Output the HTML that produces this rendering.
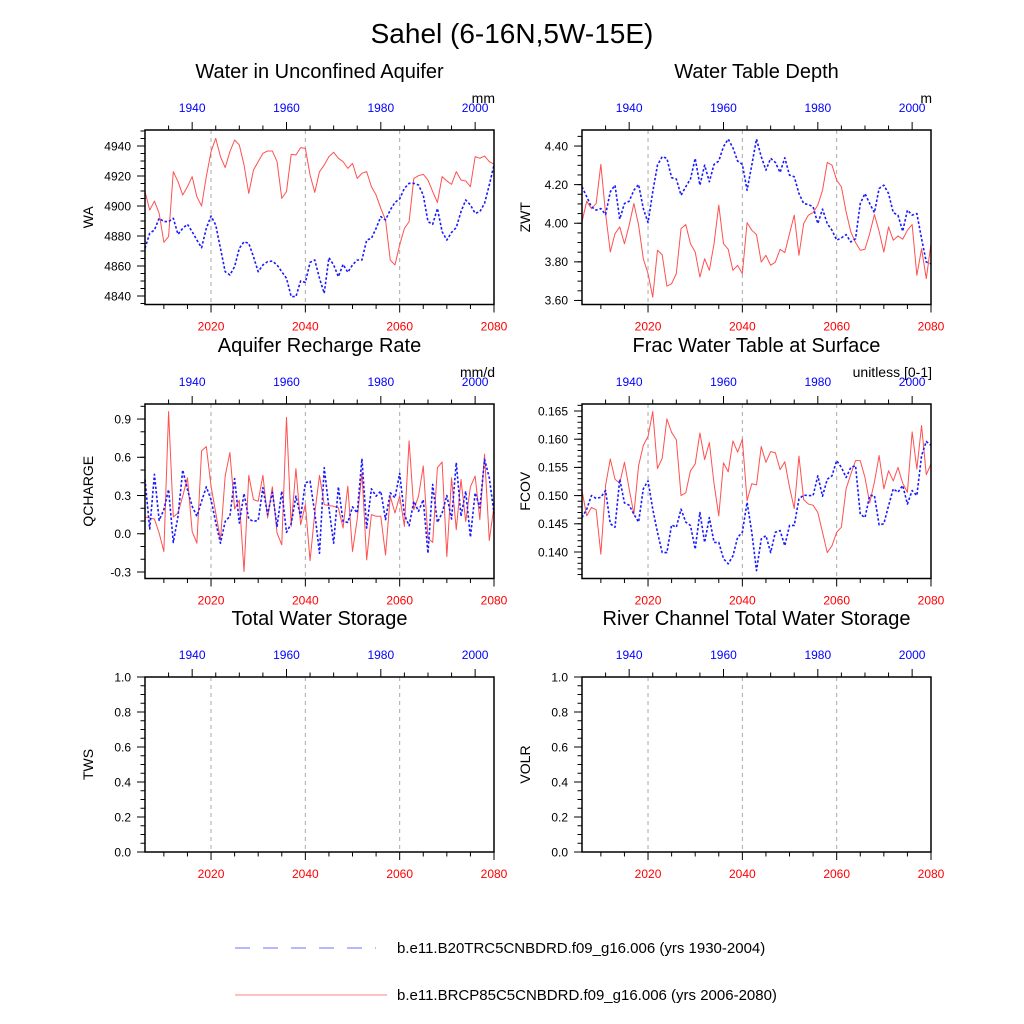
<!DOCTYPE html>
<html><head><meta charset="utf-8"><style>
html,body{margin:0;padding:0;background:#fff;}
svg{display:block;font-family:"Liberation Sans",Arial,sans-serif;}
</style></head><body>
<svg id="chart" width="1024" height="1024" viewBox="0 0 1024 1024" xmlns="http://www.w3.org/2000/svg">
<text x="512" y="43" font-size="28" text-anchor="middle">Sahel (6-16N,5W-15E)</text>
<g>
<line x1="235" y1="948" x2="376" y2="948" stroke="#7070ff" stroke-width="1" stroke-dasharray="15,13"/>
<text x="397" y="953" font-size="15">b.e11.B20TRC5CNBDRD.f09_g16.006 (yrs 1930-2004)</text>
<line x1="235" y1="995" x2="387" y2="995" stroke="#ff8080" stroke-width="1"/>
<text x="397" y="1000" font-size="15">b.e11.BRCP85C5CNBDRD.f09_g16.006 (yrs 2006-2080)</text>
</g>
</svg>
<script>
const years = [2006, 2080];
const topYears = [1930, 2004];
const bottomTicks = ["2020","2040","2060","2080"];
const topTicks = ["1940","1960","1980","2000"];

const waRed = [4909.6,4897.3,4903.3,4895.1,4875.8,4879.6,4922.9,4916.2,4907.3,4912.9,4919.6,4906.2,4900,4919.6,4936.2,4945.1,4932.9,4925.6,4936.2,4944,4940.7,4927.3,4908.4,4924,4929.6,4935.1,4936.7,4936.7,4929.6,4905.1,4909.6,4934.4,4934,4938.9,4938.4,4920.7,4909.1,4922.9,4927.3,4932.9,4935.8,4931.8,4929.6,4925.1,4928.4,4918.4,4921.8,4922.9,4912.9,4907.3,4898.4,4890.7,4864,4860.7,4874,4885.1,4889.6,4918.4,4920.2,4921.1,4917.3,4909.6,4902.4,4919.6,4916.7,4914.4,4922.9,4917.3,4916.7,4912.9,4932.9,4931.8,4933.3,4929.6,4927.8];
const waBlue = [4871.8,4881.8,4884,4891.8,4889.6,4889.6,4891.8,4881.1,4885.1,4887.8,4882.9,4877.3,4872.2,4885.1,4893.3,4887.3,4871.8,4856.2,4854,4859.6,4871.8,4876.2,4875.1,4866.2,4856.2,4860.7,4862.9,4863.3,4860.7,4856.2,4851.8,4839.6,4839.6,4850,4849.1,4862.4,4864,4851.8,4841.8,4865.6,4860.7,4852.9,4861.1,4855.8,4860.7,4864,4864,4877.3,4878.4,4885.1,4892.9,4890.7,4897.3,4902.4,4904.7,4911.8,4915.1,4915.1,4914,4907.3,4889.6,4887.8,4898.4,4882.9,4877.3,4882.4,4885.6,4896.2,4904,4900.7,4895.1,4896.2,4901.8,4914,4927.3];
const zwtRed = [4.007,4.114,4.076,4.102,4.305,4.05,3.851,3.946,3.981,3.894,3.99,4.102,3.99,3.816,3.739,3.617,3.86,3.837,3.674,3.687,3.739,3.972,3.993,3.894,3.851,3.721,3.816,3.756,3.894,4.094,3.894,3.865,3.756,3.782,3.739,4.003,3.964,3.941,3.799,3.834,3.782,3.799,3.865,3.848,3.946,4.042,3.834,3.998,4.042,4.055,4.094,4.171,4.315,4.301,4.223,4.189,4.059,3.955,3.9,3.86,3.865,3.946,4.045,3.958,3.851,3.981,3.912,3.934,3.917,3.964,3.993,3.73,3.868,3.713,3.894];
const zwtBlue = [4.189,4.137,4.085,4.068,4.076,4.045,4.163,4.197,4.021,4.102,4.114,4.171,4.201,4.076,4.003,4.163,4.301,4.345,4.336,4.236,4.229,4.145,4.189,4.229,4.336,4.197,4.301,4.215,4.305,4.322,4.397,4.436,4.391,4.322,4.305,4.171,4.301,4.436,4.345,4.275,4.336,4.315,4.263,4.339,4.249,4.241,4.154,4.102,4.097,4.085,3.998,4.073,3.998,3.964,3.912,3.924,3.941,3.903,3.92,4.102,4.154,4.102,4.055,4.18,4.197,4.154,4.055,4.042,3.958,4.068,4.042,4.05,3.92,3.799,3.79];
const qRed = [0.132,0.124,0.116,0.005,-0.139,0.958,0.132,0.163,0.295,0.439,0.018,-0.074,0.65,0.684,0.374,0.163,-0.047,0.453,0.637,0.195,0.263,-0.297,0.458,0.268,0.255,0.458,0.124,0.368,0.005,-0.087,0.913,0.058,0.511,0.071,0.229,-0.211,0.163,0.458,0.229,0.221,0.216,0.203,0.045,0.374,-0.139,0.116,0.479,-0.205,0.15,0.137,0.137,-0.166,0.295,0.163,0.295,0.058,0.729,0.189,0.295,0.532,-0.034,-0.068,0.518,0.563,-0.179,0.439,0.032,0.426,0.097,0.368,0.453,0.111,0.624,-0.053,0.216];
const qBlue = [0.426,0.037,0.466,0.105,0.189,0.347,-0.068,0.137,0.5,0.347,0.216,0.137,0.255,0.368,0.268,0.089,-0.074,0.097,0.137,0.432,0.084,0.316,0.116,0.097,0.105,0.361,0.15,0.326,0.058,0.334,0.011,0.079,0.295,0.132,0.4,0.413,0.163,-0.153,0.518,0.203,-0.074,0.368,0.097,0.089,0.211,0.163,0.589,0.045,0.353,0.295,0.334,0.111,0.321,0.282,0.474,0.15,0.063,0.255,0.176,0.268,-0.153,0.387,0.089,0.163,0.3,0.116,0.558,0.137,0.334,-0.026,0.321,0.203,0.584,0.439,0.163];
const fRed = [0.1509,0.1464,0.1479,0.1475,0.1396,0.1518,0.1565,0.1529,0.1522,0.1559,0.1512,0.1467,0.1553,0.1589,0.1605,0.1649,0.1548,0.1566,0.1636,0.1612,0.1599,0.15,0.1505,0.1544,0.1556,0.1611,0.1564,0.1594,0.1521,0.1464,0.1558,0.1542,0.1597,0.1577,0.16,0.1491,0.1521,0.1519,0.1587,0.1559,0.1578,0.1576,0.1546,0.156,0.1515,0.1477,0.157,0.1493,0.1485,0.1483,0.147,0.1435,0.1399,0.1411,0.1435,0.1444,0.1512,0.1538,0.1562,0.1562,0.1532,0.1487,0.1524,0.1571,0.1512,0.1544,0.1526,0.155,0.1522,0.1506,0.1613,0.1547,0.1624,0.1537,0.1556];
const fBlue = [0.1461,0.1476,0.15,0.1495,0.1497,0.1509,0.145,0.1444,0.1529,0.1487,0.1483,0.1467,0.1453,0.1512,0.1526,0.1476,0.1435,0.1399,0.1399,0.1448,0.1444,0.1476,0.1453,0.1447,0.1405,0.147,0.1417,0.1461,0.1417,0.1417,0.1388,0.1379,0.1393,0.1426,0.1435,0.1488,0.1435,0.1367,0.1423,0.1429,0.1399,0.1435,0.1438,0.1411,0.1447,0.1447,0.1494,0.1501,0.15,0.15,0.1535,0.1499,0.1529,0.1535,0.1562,0.155,0.1532,0.155,0.1553,0.1467,0.1461,0.15,0.15,0.1448,0.145,0.1482,0.1512,0.1506,0.1518,0.1485,0.1509,0.15,0.1571,0.1596,0.1589];

const waTicks = ["4840","4860","4880","4900","4920","4940"];
const zwtTicks = ["3.60","3.80","4.00","4.20","4.40"];
const qTicks = ["-0.3","0.0","0.3","0.6","0.9"];
const fTicks = ["0.140","0.145","0.150","0.155","0.160","0.165"];
const emptyTicks = ["0.0","0.2","0.4","0.6","0.8","1.0"];

const NS = "http://www.w3.org/2000/svg";
const svg = document.getElementById('chart');
function mk(tag, attrs, parent) {
  const e = document.createElementNS(NS, tag);
  for (const k in attrs) e.setAttribute(k, attrs[k]);
  (parent || svg).appendChild(e);
  return e;
}

const panels = [
  {id:'wa', title:'Water in Unconfined Aquifer', ylab:'WA', unit:'mm', x0:145, x1:494, y0:130, y1:304.5, vmin:4834.33, vmax:4950.67, ticks:waTicks, minor:5, red:waRed, blue:waBlue},
  {id:'zwt', title:'Water Table Depth', ylab:'ZWT', unit:'m', x0:582, x1:931, y0:130, y1:304.5, vmin:3.579, vmax:4.483, ticks:zwtTicks, minor:0.05, red:zwtRed, blue:zwtBlue},
  {id:'qcharge', title:'Aquifer Recharge Rate', ylab:'QCHARGE', unit:'mm/d', x0:145, x1:494, y0:404, y1:578.5, vmin:-0.351, vmax:1.018, ticks:qTicks, minor:0.1, red:qRed, blue:qBlue},
  {id:'fcov', title:'Frac Water Table at Surface', ylab:'FCOV', unit:'unitless [0-1]', x0:582, x1:931, y0:404, y1:578.5, vmin:0.1353, vmax:0.16624, ticks:fTicks, minor:0.001, red:fRed, blue:fBlue},
  {id:'tws', title:'Total Water Storage', ylab:'TWS', unit:'', x0:145, x1:494, y0:677, y1:852, vmin:0, vmax:1, ticks:emptyTicks, minor:0.05, red:[], blue:[]},
  {id:'volr', title:'River Channel Total Water Storage', ylab:'VOLR', unit:'', x0:582, x1:931, y0:677, y1:852, vmin:0, vmax:1, ticks:emptyTicks, minor:0.05, red:[], blue:[]}
];

panels.forEach(p => {
  const g = mk('g', {});
  
  
  const xs = yr => p.x0 + (yr - years[0]) / (years[1] - years[0]) * (p.x1 - p.x0);
  const xt = yr => p.x0 + (yr - topYears[0]) / (topYears[1] - topYears[0]) * (p.x1 - p.x0);
  const ys = v => p.y1 - (v - p.vmin) / (p.vmax - p.vmin) * (p.y1 - p.y0);
  const cx = (p.x0 + p.x1) / 2;

  const t = mk('text', {x:cx, y:p.y0 - 52, 'font-size':20, 'text-anchor':'middle'}, g);
  t.textContent = p.title;
  
  

  if (p.unit) {
    const u = mk('text', {x:p.x1 + 1, y:p.y0 - 27, 'font-size':14, 'text-anchor':'end'}, g);
    u.textContent = p.unit;
    
    
  }

  [2020, 2040, 2060].forEach(yr => {
    const l = mk('line', {x1:xs(yr), x2:xs(yr), y1:p.y0, y2:p.y1, stroke:'#aaa', 'stroke-width':1, 'stroke-dasharray':'4,4'}, g);
    
    
  });

  const line = (arr, color, dash, w, name) => {
    if (!arr.length) return;
    const pts = arr.map((v, i) => xs(years[0] + i).toFixed(2) + ',' + ys(v).toFixed(2)).join(' ');
    const pl = mk('polyline', {points:pts, fill:'none', stroke:color, 'stroke-width':w, 'stroke-dasharray':dash, 'stroke-linejoin':'round'}, g);
    
    
  };
  line(p.red, '#ff5050', 'none', 1, p.id + '-rcp85-line');
  line(p.blue, '#1a1aff', '2.5,2', 1.6, p.id + '-historical-line');

  const fr = mk('rect', {x:p.x0, y:p.y0, width:p.x1 - p.x0, height:p.y1 - p.y0, fill:'none', stroke:'#000', 'stroke-width':1.5}, g);
  
  

  for (let yr = 2010; yr <= 2080; yr += 5) {
    const major = (yr % 20 === 0);
    const x = xs(yr);
    const tk = mk('line', {x1:x, x2:x, y1:p.y1, y2:p.y1 + (major ? 8 : 4.5), stroke:'#000', 'stroke-width':1}, g);
    
    
  }
  bottomTicks.forEach(s => {
    const lb = mk('text', {x:xs(+s), y:p.y1 + 26, 'font-size':12, fill:'#ff0000', 'text-anchor':'middle'}, g);
    lb.textContent = s;
    
    
  });
  for (let yr = 1935; yr <= 2004; yr += 5) {
    const major = (yr % 20 === 0);
    const x = xt(yr);
    const tk = mk('line', {x1:x, x2:x, y1:p.y0, y2:p.y0 - (major ? 8 : 4.5), stroke:'#000', 'stroke-width':1}, g);
    
    
  }
  topTicks.forEach(s => {
    const lb = mk('text', {x:xt(+s), y:p.y0 - 18, 'font-size':12, fill:'#0000ff', 'text-anchor':'middle'}, g);
    lb.textContent = s;
    
    
  });
  const step = p.minor;
  const startM = Math.ceil(p.vmin / step - 1e-6);
  const endM = Math.floor(p.vmax / step + 1e-6);
  for (let k = startM; k <= endM; k++) {
    const v = k * step;
    const y = ys(v);
    const tk = mk('line', {x1:p.x0, x2:p.x0 - 4.5, y1:y, y2:y, stroke:'#000', 'stroke-width':1}, g);
    
    
  }
  p.ticks.forEach(s => {
    const y = ys(+s);
    const tk = mk('line', {x1:p.x0, x2:p.x0 - 8, y1:y, y2:y, stroke:'#000', 'stroke-width':1}, g);
    
    
    const lb = mk('text', {x:p.x0 - 14, y:y + 4.3, 'font-size':12, 'text-anchor':'end'}, g);
    lb.textContent = s;
    
    
  });
  const yt = mk('text', {x:0, y:0, 'font-size':14, 'text-anchor':'middle', transform:'translate(' + (p.x0 - 52) + ',' + ((p.y0 + p.y1) / 2) + ') rotate(-90)'}, g);
  yt.textContent = p.ylab;
  
  
});
</script>
</body></html>
